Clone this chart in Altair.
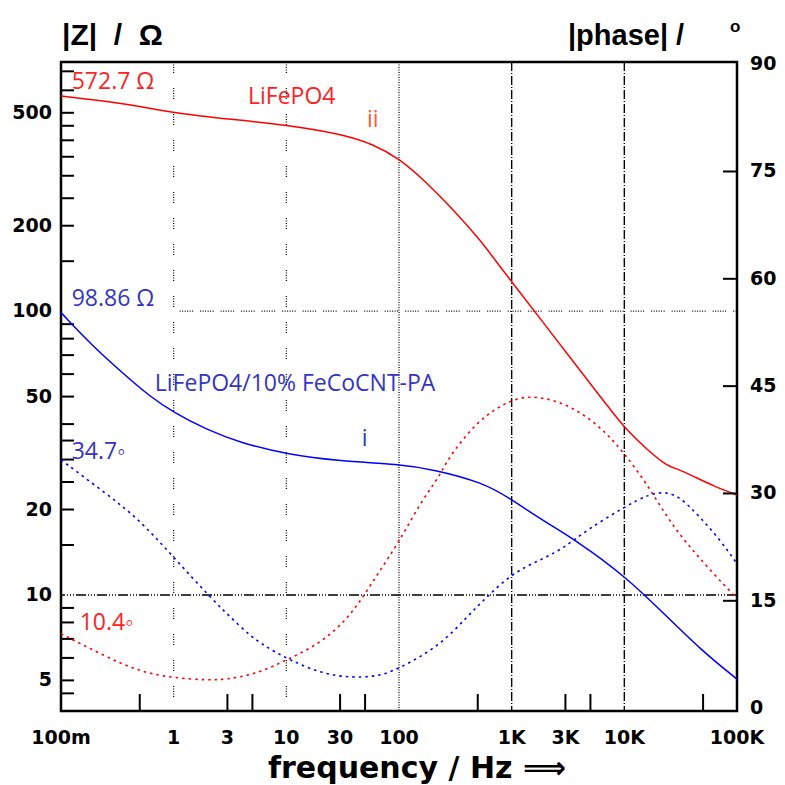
import altair as alt
import pandas as pd

# ---------------- data ----------------
# |Z| of LiFePO4 (ii), solid red
red_z_freq = [0.1, 0.35, 1, 3.3, 10, 30, 60, 100, 165, 300, 520, 700, 1000,
              2000, 4000, 7000, 10000, 15800, 23800, 29200, 41000, 61700, 100000]
red_z_val = [572.7, 542, 499, 474, 453, 422, 387, 345, 291, 229, 179, 152.8,
             127, 88.9, 62.2, 46.7, 38.8, 32.6, 28.5, 27.9, 26.2, 24.2, 22.5]

# |Z| of LiFePO4/10% FeCoCNT-PA (i), solid blue
blue_z_freq = [0.1, 0.19, 0.38, 0.61, 1, 1.95, 3.9, 10, 30, 100, 200, 560,
               1000, 1800, 3800, 10000, 22000, 47000, 100000]
blue_z_val = [98.86, 75.4, 59, 50.2, 43.9, 38.3, 34.4, 31.3, 29.6, 28.9, 27.7,
              24.9, 21.7, 18.5, 15.5, 11.7, 8.67, 6.44, 5.05]

# |phase| of LiFePO4, dotted red
red_p_freq = [0.1, 0.25, 0.5, 1, 1.95, 2.9, 5.4, 10, 20, 34, 48, 68, 100, 153,
              231, 265, 490, 1000, 1550, 2500, 4300, 7000, 10000, 15800, 23800,
              35800, 57700, 100000]
red_p_val = [10.4, 7.2, 5.07, 4.23, 3.91, 4.0, 4.75, 6.7, 9.04, 12.3, 15.5,
             19.3, 23.2, 28.6, 32.5, 34.6, 40.2, 43.25, 43.6, 43.0, 41.2, 38.4,
             35.6, 31.4, 26.7, 23.0, 19.3, 15.3]

# |phase| of LiFePO4/10% FeCoCNT-PA, dotted blue
blue_p_freq = [0.1, 0.25, 0.47, 1, 2.1, 3.9, 5.8, 10.7, 24, 59, 95, 231, 400,
               600, 1000, 1780, 2870, 4630, 10000, 16900, 23800, 31300, 47000,
               70800, 100000]
blue_p_val = [34.7, 30.0, 26.7, 21.1, 15.5, 11.35, 9.04, 6.7, 4.37, 4.23, 5.3,
              8.7, 12.75, 15.5, 18.8, 20.7, 22.3, 24.9, 28.1, 30.0, 30.2, 29.5,
              26.7, 23.5, 20.2]

# axis tick labels and ticks
freq_labels = [0.1, 1, 3, 10, 30, 100, 1000, 3000, 10000, 100000]
freq_label_text = ["100m", "1", "3", "10", "30", "100", "1K", "3K", "10K", "100K"]
freq_ticks = [0.5, 3, 5, 30, 50, 500, 3000, 5000, 50000]
z_labels = [5, 10, 20, 50, 100, 200, 500]
z_label_text = ["5", "10", "20", "50", "100", "200", "500"]
z_ticks = [4.5, 5, 6, 7, 8, 9, 15, 20, 25, 30, 35, 40, 50, 60, 70, 80, 90, 150,
           200, 250, 300, 350, 400, 450, 500, 600, 700]
phase_labels = [0, 15, 30, 45, 60, 75, 90]
phase_label_text = ["0", "15", "30", "45", "60", "75", "90"]
phase_ticks = [15, 30, 45, 60, 75]

# axis titles
z_title = ["|Z|\u00a0\u00a0/\u00a0\u00a0Ω"]
phase_title = ["|phase|\u00a0/"]
phase_title_unit = ["o"]
freq_title = ["frequency / Hz ⟹"]

# grid lines
grid_broken_freq = [1, 10]
grid_dot_freq = [100]
grid_dashdot_freq = [1000, 10000]
grid_z_main = [10]
grid_z_partial = [100]
grid_z_partial_from = [1.13]
grid_z_partial_to = [100000]

# annotations (text, frequency, |Z| position of the baseline start)
red_ann_text = ["572.7 Ω", "LiFePO4", "10.4◦"]
red_ann_freq = [0.1245, 4.57, 0.1466]
red_ann_z = [605, 535, 7.5]
ii_text = ["ii"]
ii_freq = [51.9]
ii_z = [445]
blue_ann_text = ["98.86 Ω", "LiFePO4/10% FeCoCNT-PA", "i", "34.7◦"]
blue_ann_freq = [0.1245, 0.68, 46.8, 0.1245]
blue_ann_z = [104, 52.2, 33.4, 30.1]

# ---------------- chart ----------------
W, H = 676, 649
RED = "#ff0000"
BLUE = "#0000ff"
RED_TXT = "#ff2222"
BLUE_TXT = "#3434c4"
ANN_FONT = "Open Sans"
ANN_SIZE = 23
AX_FONT = "DejaVu Sans"
AX_SIZE = 19

xs = alt.Scale(type="log", domain=[0.1, 100000], nice=False)
zs = alt.Scale(type="log", domain=[3.9, 755], nice=False)
ps = alt.Scale(type="linear", domain=[-0.4, 90.3], nice=False, zero=False)


def df(**cols):
    return pd.DataFrame(cols)


def X(field="f"):
    return alt.X(f"{field}:Q", scale=xs, axis=None)


def YZ(field="v"):
    return alt.Y(f"{field}:Q", scale=zs, axis=None)


def YP(field="p"):
    return alt.Y(f"{field}:Q", scale=ps, axis=None)


# ---- |Z| layer ----
z_layers = []

# grid lines
z_layers.append(alt.Chart(df(f=grid_broken_freq)).mark_rule(
    color="black", strokeWidth=1.2, strokeDash=[1, 1.5, 1, 1.5, 1, 1.5, 1, 1.5, 1, 15]
).encode(x=X()))
z_layers.append(alt.Chart(df(f=grid_dot_freq)).mark_rule(
    color="black", strokeWidth=1.2, strokeDash=[1, 1.5]
).encode(x=X()))
z_layers.append(alt.Chart(df(f=grid_dashdot_freq)).mark_rule(
    color="black", strokeWidth=1.4, strokeDash=[9, 2, 1, 2]
).encode(x=X()))
z_layers.append(alt.Chart(df(v=grid_z_main)).mark_rule(
    color="black", strokeWidth=1.4, strokeDash=[10, 2, 1, 2, 1, 2, 1, 2]
).encode(y=YZ()))
z_layers.append(alt.Chart(df(f=grid_z_partial_from, f2=grid_z_partial_to, v=grid_z_partial)).mark_rule(
    color="black", strokeWidth=1.2, strokeDash=[1, 1.5, 1, 1.5, 1, 1.5, 1, 1.5, 1, 1.5, 1, 7]
).encode(x=X(), x2="f2:Q", y=YZ()))

# inward ticks
z_layers.append(alt.Chart(df(v=z_ticks)).mark_rule(color="black", strokeWidth=2).encode(
    y=YZ(), x=alt.value(0), x2=alt.value(13)))
z_layers.append(alt.Chart(df(f=freq_ticks)).mark_rule(color="black", strokeWidth=2).encode(
    x=X(), y=alt.value(H), y2=alt.value(H - 17)))

# tick labels
z_layers.append(alt.Chart(df(v=z_labels, t=z_label_text)).mark_text(
    align="right", baseline="middle", font=AX_FONT, fontWeight="bold",
    fontSize=AX_SIZE, color="black"
).encode(y=YZ(), x=alt.value(-9), text="t:N"))
z_layers.append(alt.Chart(df(f=freq_labels, t=freq_label_text)).mark_text(
    align="center", baseline="middle", font=AX_FONT, fontWeight="bold",
    fontSize=AX_SIZE, color="black"
).encode(x=X(), y=alt.value(H + 27), text="t:N"))

# axis titles
z_layers.append(alt.Chart(df(t=z_title)).mark_text(
    align="left", baseline="alphabetic", font="Liberation Sans", fontWeight="bold",
    fontSize=30, color="black"
).encode(x=alt.value(1), y=alt.value(-17), text="t:N"))
z_layers.append(alt.Chart(df(t=phase_title)).mark_text(
    align="left", baseline="alphabetic", font="Liberation Sans", fontWeight="bold",
    fontSize=29, color="black"
).encode(x=alt.value(507), y=alt.value(-17), text="t:N"))
z_layers.append(alt.Chart(df(t=phase_title_unit)).mark_text(
    align="left", baseline="alphabetic", font="Liberation Sans", fontWeight="bold",
    fontSize=17, color="black"
).encode(x=alt.value(669), y=alt.value(-30), text="t:N"))
z_layers.append(alt.Chart(df(t=freq_title)).mark_text(
    align="left", baseline="alphabetic", font=AX_FONT, fontWeight="bold",
    fontSize=30, color="black"
).encode(x=alt.value(207), y=alt.value(H + 67), text="t:N"))

# curves
z_layers.append(alt.Chart(df(f=red_z_freq, v=red_z_val)).mark_line(
    color=RED, strokeWidth=1.5, interpolate="basis"
).encode(x=X(), y=YZ()))
z_layers.append(alt.Chart(df(f=blue_z_freq, v=blue_z_val)).mark_line(
    color=BLUE, strokeWidth=1.5, interpolate="basis"
).encode(x=X(), y=YZ()))

# annotations
z_layers.append(alt.Chart(df(t=red_ann_text, f=red_ann_freq, v=red_ann_z)).mark_text(
    align="left", baseline="alphabetic", font=ANN_FONT, fontSize=ANN_SIZE, color=RED_TXT
).encode(x=X(), y=YZ(), text="t:N"))
z_layers.append(alt.Chart(df(t=ii_text, f=ii_freq, v=ii_z)).mark_text(
    align="left", baseline="alphabetic", font=ANN_FONT, fontSize=ANN_SIZE, color="#ff5a2a"
).encode(x=X(), y=YZ(), text="t:N"))
z_layers.append(alt.Chart(df(t=blue_ann_text, f=blue_ann_freq, v=blue_ann_z)).mark_text(
    align="left", baseline="alphabetic", font=ANN_FONT, fontSize=ANN_SIZE, color=BLUE_TXT
).encode(x=X(), y=YZ(), text="t:N"))

z_layer = alt.layer(*z_layers)

# ---- phase layer ----
p_layers = []
p_layers.append(alt.Chart(df(p=phase_ticks)).mark_rule(color="black", strokeWidth=2).encode(
    y=YP(), x=alt.value(W), x2=alt.value(W - 14)))
p_layers.append(alt.Chart(df(p=phase_labels, t=phase_label_text)).mark_text(
    align="left", baseline="middle", font=AX_FONT, fontWeight="bold",
    fontSize=AX_SIZE, color="black"
).encode(y=YP(), x=alt.value(W + 13), text="t:N"))
p_layers.append(alt.Chart(df(f=red_p_freq, p=red_p_val)).mark_line(
    color=RED, strokeWidth=1.6, strokeDash=[2.5, 4], interpolate="basis"
).encode(x=X(), y=YP()))
p_layers.append(alt.Chart(df(f=blue_p_freq, p=blue_p_val)).mark_line(
    color=BLUE, strokeWidth=1.6, strokeDash=[2.5, 4], interpolate="basis"
).encode(x=X(), y=YP()))
p_layer = alt.layer(*p_layers)

chart = alt.layer(z_layer, p_layer).resolve_scale(y="independent").properties(
    width=W, height=H,
    autosize=alt.AutoSizeParams(type="none"),
    padding={"left": 53, "top": 54, "right": 40, "bottom": 76},
    background="white",
).configure_view(stroke="black", strokeWidth=2.5)

chart.save("out.html", embed_options={"renderer": "svg", "actions": False})
